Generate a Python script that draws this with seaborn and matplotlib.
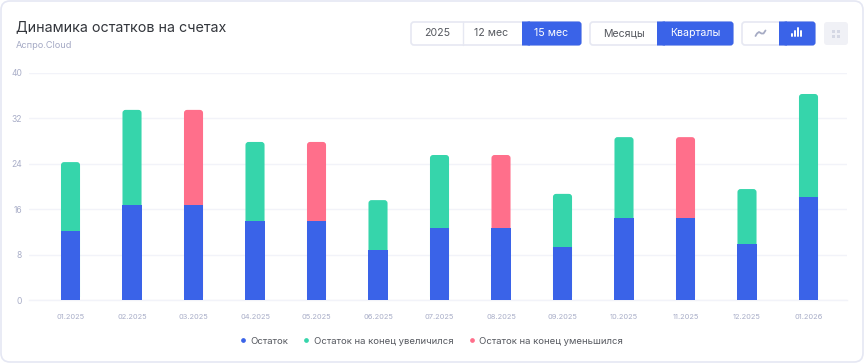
import pandas as pd
import seaborn as sns
import matplotlib.pyplot as plt
from matplotlib.lines import Line2D
from matplotlib.patches import FancyBboxPatch, Rectangle
from matplotlib.transforms import Affine2D

months = ['01.2025', '02.2025', '03.2025', '04.2025', '05.2025', '06.2025', '07.2025',
          '08.2025', '09.2025', '10.2025', '11.2025', '12.2025', '01.2026']
balance = [12.2, 16.75, 16.75, 13.95, 13.95, 8.8, 12.7, 12.7, 9.35, 14.45, 14.45, 9.85, 18.15]
totals = [24.3, 33.5, 33.5, 27.85, 27.85, 17.6, 25.55, 25.55, 18.7, 28.7, 28.7, 19.55, 36.3]
change = ['up', 'up', 'down', 'up', 'down', 'up', 'up', 'down', 'up', 'up', 'down', 'up', 'up']
y_ticks = [0, 8, 16, 24, 32, 40]
legend_labels = ['Остаток', 'Остаток на конец увеличился', 'Остаток на конец уменьшился']

BLUE = '#3a63e8'
GREEN = '#36d5ab'
RED = '#ff6f8b'
GRID = '#f2f3f9'
MUTED = '#a9aec8'
DARK = '#55585f'

sns.set_theme(style='white')
plt.rcParams['font.family'] = ['Inter', 'DejaVu Sans']

fig = plt.figure(figsize=(8.64, 3.63), dpi=100, facecolor='white')
px = Affine2D().scale(1, -1).translate(0, 363)  # top-left pixel coordinates

# card behind everything
fig.add_artist(FancyBboxPatch((1, 1), 862, 361, boxstyle='round,pad=0,rounding_size=9', zorder=-1,
                              transform=px, fc='white', ec='#e5e7f3', lw=1.2))

ax = fig.add_axes([29 / 864, 63 / 363, 818 / 864, 227 / 363])
ax.patch.set_alpha(0)

df = pd.DataFrame({'month': months, 'balance': balance, 'total': totals, 'change': change})
sns.barplot(data=df, x='month', y='total', hue='change', hue_order=['up', 'down'],
            palette={'up': GREEN, 'down': RED}, dodge=False, width=0.31, legend=False,
            saturation=1, ax=ax)

# round the tops of the stacked bars
for bar in list(ax.patches):
    if bar.get_height() == 0:
        continue
    ax.add_patch(FancyBboxPatch((bar.get_x(), 0), bar.get_width(), bar.get_height(),
                                boxstyle='round,pad=0,rounding_size=0.05', mutation_aspect=10.8,
                                fc=bar.get_facecolor(), ec='none', zorder=3))
    bar.remove()

sns.barplot(data=df, x='month', y='balance', color=BLUE, width=0.31, saturation=1, linewidth=0,
            ax=ax, zorder=4)

ax.set_xlim(-0.675, 12.626)
ax.set_ylim(0, 40)
ax.set_yticks(y_ticks)
ax.set_xlabel('')
ax.set_ylabel('')
ax.grid(axis='y', color=GRID, lw=1)
ax.set_axisbelow(True)
sns.despine(ax=ax, left=True, top=True, right=True)
ax.spines['bottom'].set_color(GRID)
ax.spines['bottom'].set_linewidth(1)
ax.tick_params(axis='x', length=5, width=1, color='#eceef6', pad=5, labelsize=5.4, labelcolor=MUTED)
ax.tick_params(axis='y', length=0, pad=5, labelsize=6.1, labelcolor=MUTED)

fig.text(16, 27, 'Динамика остатков на счетах', transform=px, fontsize=10.3, color='#33363c', va='center')
fig.text(16, 45, 'Аспро.Cloud', transform=px, fontsize=6.6, color='#a4a9c4', va='center')


def button_group(x0, x1, splits, active):
    fig.add_artist(FancyBboxPatch((x0, 22), x1 - x0, 23, boxstyle='round,pad=0,rounding_size=3',
                                  transform=px, fc='white', ec='#e6e8f2', lw=1.2))
    edges = [x0] + splits + [x1]
    for i in range(len(edges) - 1):
        if i == active:
            fig.add_artist(FancyBboxPatch((edges[i] + 4, 21.5), edges[i + 1] - edges[i] - 3.5, 24,
                                          boxstyle='round,pad=0,rounding_size=3', snap=False,
                                          transform=px, fc=BLUE, ec='none'))
            fig.add_artist(Rectangle((edges[i], 21.5), 8, 24, transform=px, fc=BLUE, ec='none', snap=False))
        elif i < len(edges) - 2 and i + 1 != active:
            fig.add_artist(Line2D([edges[i + 1]] * 2, [22, 45], transform=px, color='#e6e8f2', lw=1))


def button_text(x, label, active=False):
    fig.text(x, 33.5, label, transform=px, fontsize=7.6, ha='center', va='center',
             color='white' if active else DARK)


button_group(411, 581, [463, 522], 2)
button_text(437, '2025')
button_text(491.5, '12 мес')
button_text(551, '15 мес', True)

button_group(590, 733, [657], 1)
button_text(623.5, 'Месяцы')
button_text(695, 'Кварталы', True)

button_group(742, 815, [779], 1)
# curve and bars icons
fig.add_artist(Line2D([755.5, 757, 759, 761.5, 763.5, 765.5], [36, 33.5, 32, 33.5, 33.5, 30.5],
                      transform=px, color='#a6abc4', lw=1.3))
for x, h in [(792, 2.5), (795, 5), (798, 8), (801, 5)]:
    fig.add_artist(Line2D([x, x], [36, 36 - h], transform=px, color='white', lw=1.4))

# disabled grid icon
fig.add_artist(FancyBboxPatch((824, 22), 24, 23, boxstyle='round,pad=0,rounding_size=3',
                              transform=px, fc='#f0f1f6', ec='none'))
for x in (832, 837):
    for y in (29.5, 34.5):
        fig.add_artist(Rectangle((x, y), 3.4, 3.4, transform=px, fc='#d5d8e4', ec='none'))

handles = [Line2D([], [], ls='', marker='o', ms=2.4, color=c) for c in (BLUE, GREEN, RED)]
fig.legend(handles, legend_labels, loc='center', bbox_to_anchor=(431.5 / 864, 1 - 341 / 363), ncols=3,
           frameon=False, fontsize=6.85, labelcolor=DARK, handlelength=0.6, handletextpad=0.5,
           columnspacing=1.6, borderpad=0)

fig.savefig('out.png', dpi=100)
